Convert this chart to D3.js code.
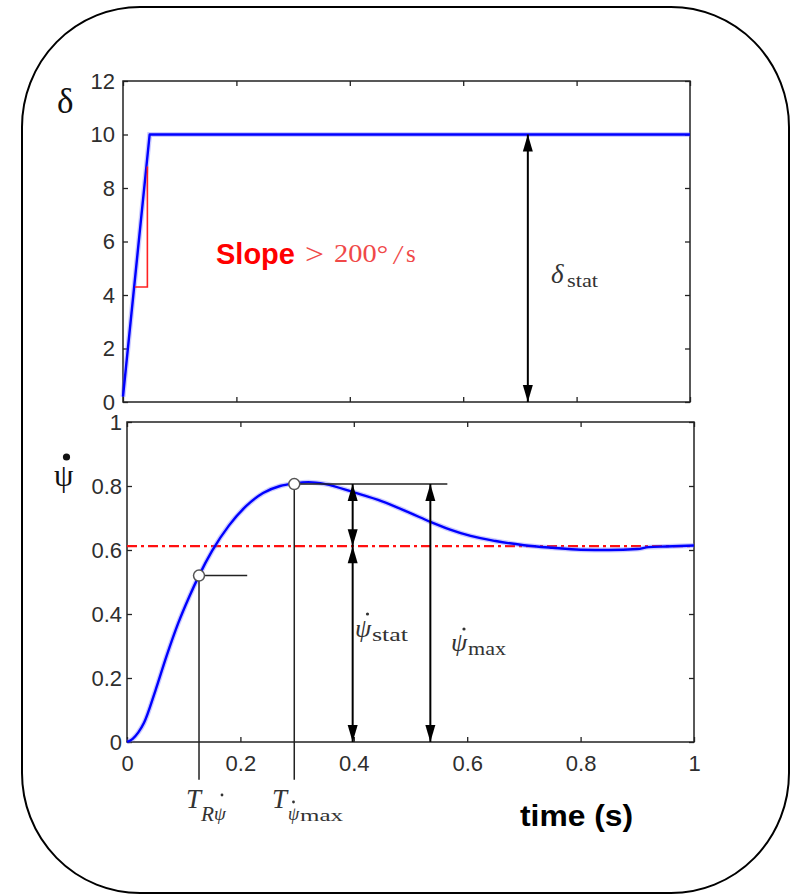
<!DOCTYPE html>
<html>
<head>
<meta charset="utf-8">
<script src="https://cdn.jsdelivr.net/npm/d3@7"></script>
<style>
  body { margin: 0; background: #fff; }
  svg { display: block; }
</style>
</head>
<body>
<svg id="chart" width="796" height="894"></svg>
<script>
// Steering input: ramp to the static steering angle
const steerTime  = [0, 0.047, 1];
const steerAngle = [0.2, 10, 10];
// Slope triangle on the ramp
const slopeTime  = [0.021, 0.043, 0.043];
const slopeAngle = [4.3, 4.3, 8.8];
const deltaStat = 10;
const deltaArrowTime = 0.714;

// Yaw-rate response
const yawTime = [0, 0.01, 0.02, 0.03, 0.05, 0.07, 0.09, 0.11, 0.127, 0.15, 0.18, 0.21, 0.24, 0.27,
                 0.295, 0.32, 0.35, 0.4, 0.45, 0.5, 0.535, 0.57, 0.606, 0.65, 0.7, 0.75, 0.8, 0.85,
                 0.9, 0.92, 0.95, 1.0];
const yawRate = [0, 0.01, 0.03, 0.06, 0.16, 0.27, 0.37, 0.455, 0.52, 0.597, 0.677, 0.737, 0.778, 0.8,
                 0.808, 0.812, 0.806, 0.78, 0.752, 0.715, 0.688, 0.664, 0.644, 0.628, 0.615, 0.607, 0.601, 0.6,
                 0.603, 0.609, 0.611, 0.614];
const yawStat = 0.612;
const riseTime = 0.127, riseRate = 0.52, riseGuideEnd = 0.212;
const peakTime = 0.295, peakRate = 0.806, peakGuideEnd = 0.565;
const statArrowTime = 0.398, maxArrowTime = 0.535;
const guideDrop = -0.118;

// Tick labels
const timeTicks  = [0, 0.2, 0.4, 0.6, 0.8, 1];
const deltaTicks = [0, 2, 4, 6, 8, 10, 12];
const rateTicks  = [0, 0.2, 0.4, 0.6, 0.8, 1];

const svg = d3.select("#chart");
const sans = "'Liberation Sans', Arial, sans-serif";
const serif = "'Liberation Serif', 'Times New Roman', serif";
const ink = "#222";
const labelInk = "#333";

// Outer rounded frame
svg.append("rect")
  .attr("x", 22).attr("y", 7).attr("width", 767).attr("height", 886)
  .attr("rx", 118).attr("ry", 120)
  .attr("fill", "none").attr("stroke", "#000").attr("stroke-width", 2);

// Scales
const xTop = d3.scaleLinear().domain([0, 1]).range([123, 690]);
const yTop = d3.scaleLinear().domain([0, 12]).range([402, 81]);
const xBot = d3.scaleLinear().domain([0, 1]).range([127, 694]);
const yBot = d3.scaleLinear().domain([0, 1]).range([742, 422]);

function styleAxis(g) {
  g.selectAll("path.domain").remove();
  g.selectAll("line").attr("stroke", ink).attr("stroke-width", 1.3);
  g.selectAll("text").attr("fill", "#2e2e2e").style("font-family", sans).style("font-size", "22px");
}

function boxAxes(x, y, yTicks, showX, leftPad, yFmt) {
  const [x0, x1] = x.range();
  const [y0, y1] = y.range();
  svg.append("g").attr("transform", `translate(${x0},0)`)
    .call(d3.axisLeft(y).tickValues(yTicks).tickSizeInner(-5).tickSizeOuter(0).tickPadding(leftPad).tickFormat(yFmt))
    .call(styleAxis);
  svg.append("g").attr("transform", `translate(${x1},0)`)
    .call(d3.axisRight(y).tickValues(yTicks).tickSizeInner(-5).tickSizeOuter(0).tickFormat(""))
    .call(styleAxis);
  svg.append("g").attr("transform", `translate(0,${y0})`)
    .call(d3.axisBottom(x).tickValues(timeTicks).tickSizeInner(-5).tickSizeOuter(0).tickPadding(13)
      .tickFormat(showX ? d3.format("") : ""))
    .call(styleAxis);
  svg.append("g").attr("transform", `translate(0,${y1})`)
    .call(d3.axisTop(x).tickValues(timeTicks).tickSizeInner(-5).tickSizeOuter(0).tickFormat(""))
    .call(styleAxis);
  svg.append("rect")
    .attr("x", x0).attr("y", y1).attr("width", x1 - x0).attr("height", y0 - y1)
    .attr("fill", "none").attr("stroke", ink).attr("stroke-width", 1.5);
}

boxAxes(xTop, yTop, deltaTicks, false, 8, d3.format("d"));
boxAxes(xBot, yBot, rateTicks, true, 5, d => d === 0 || d === 1 ? String(d) : d3.format(".1f")(d));

function arrowHead(px, py, dir) {
  // dir = -1 points up, +1 points down
  const L = 17, W = 5;
  svg.append("path")
    .attr("d", `M${px},${py} L${px - W},${py - dir * L} L${px + W},${py - dir * L} Z`)
    .attr("fill", "#000");
}
function doubleArrow(px, yTopPx, yBotPx) {
  svg.append("line").attr("x1", px).attr("x2", px).attr("y1", yTopPx).attr("y2", yBotPx)
    .attr("stroke", "#000").attr("stroke-width", 2);
  arrowHead(px, yTopPx, -1);
  arrowHead(px, yBotPx, 1);
}

// ---- Top panel: steering angle ----
const lineTop = d3.line().x((d, i) => xTop(steerTime[i])).y(d => yTop(d));
svg.append("path").datum(steerAngle).attr("d", lineTop)
  .attr("fill", "none").attr("stroke", "#6a6aff").attr("stroke-width", 5).attr("opacity", 0.35);
svg.append("path").datum(steerAngle).attr("d", lineTop)
  .attr("fill", "none").attr("stroke", "#0000ff").attr("stroke-width", 2.4).attr("stroke-linejoin", "round");

svg.append("path").datum(slopeAngle)
  .attr("d", d3.line().x((d, i) => xTop(slopeTime[i])).y(d => yTop(d)))
  .attr("fill", "none").attr("stroke", "#ff2020").attr("stroke-width", 1.6);

doubleArrow(xTop(deltaArrowTime), yTop(deltaStat), yTop(0));

// ---- Bottom panel: yaw rate ----
svg.append("line")
  .attr("x1", xBot(0)).attr("x2", xBot(1)).attr("y1", yBot(yawStat)).attr("y2", yBot(yawStat))
  .attr("stroke", "#ff1010").attr("stroke-width", 2.2).attr("stroke-dasharray", "10,4,3,4");

const lineBot = d3.line().curve(d3.curveMonotoneX).x((d, i) => xBot(yawTime[i])).y(d => yBot(d));
svg.append("path").datum(yawRate).attr("d", lineBot)
  .attr("fill", "none").attr("stroke", "#6a6aff").attr("stroke-width", 5).attr("opacity", 0.35);
svg.append("path").datum(yawRate).attr("d", lineBot)
  .attr("fill", "none").attr("stroke", "#0000ff").attr("stroke-width", 2.4);

// Guide lines to the characteristic points
[[riseTime, riseRate, riseGuideEnd], [peakTime, peakRate, peakGuideEnd]].forEach(([t, v, tEnd]) => {
  svg.append("line").attr("x1", xBot(t)).attr("x2", xBot(tEnd)).attr("y1", yBot(v)).attr("y2", yBot(v))
    .attr("stroke", ink).attr("stroke-width", 1.5);
  svg.append("line").attr("x1", xBot(t)).attr("x2", xBot(t)).attr("y1", yBot(v)).attr("y2", yBot(guideDrop))
    .attr("stroke", ink).attr("stroke-width", 1.5);
});

doubleArrow(xBot(statArrowTime), yBot(peakRate), yBot(yawStat));
doubleArrow(xBot(statArrowTime), yBot(yawStat), yBot(0));
doubleArrow(xBot(maxArrowTime), yBot(peakRate), yBot(0));

[[riseTime, riseRate], [peakTime, peakRate]].forEach(([t, v]) => {
  svg.append("circle").attr("cx", xBot(t)).attr("cy", yBot(v)).attr("r", 5.5)
    .attr("fill", "#fff").attr("stroke", "#555").attr("stroke-width", 1.5);
});

// ---- Text ----
function txt(x, y, s, opts = {}) {
  return svg.append("text").attr("x", x).attr("y", y).text(s)
    .style("font-family", opts.family || serif)
    .style("font-size", (opts.size || 20) + "px")
    .style("font-style", opts.italic ? "italic" : "normal")
    .style("font-weight", opts.bold ? "bold" : "normal")
    .attr("fill", opts.fill || labelInk)
    .attr("textLength", opts.len || null)
    .attr("lengthAdjust", opts.len ? "spacingAndGlyphs" : null);
}
function dot(x, y, r) {
  svg.append("circle").attr("cx", x).attr("cy", y).attr("r", r || 1.6).attr("fill", labelInk);
}

// Axis symbols
txt(57, 113, "δ", { size: 35, fill: "#111" });
txt(54, 486, "ψ", { size: 31, fill: "#111" });
svg.append("circle").attr("cx", 66.5).attr("cy", 457).attr("r", 3.6).attr("fill", "#111");

// Slope annotation
txt(216, 264, "Slope", { family: sans, size: 29, bold: true, fill: "#ff0000" });
txt(305, 264, ">", { size: 30, fill: "#f04848", len: 19 });
txt(334, 262, "200°", { size: 25, fill: "#f04848", len: 54 });
txt(394, 264, "/", { size: 27, italic: true, fill: "#f04848" });
txt(406, 262, "s", { size: 25, fill: "#f04848" });

// Static steering angle
txt(551, 283, "δ", { size: 27, italic: true });
txt(567, 287, "stat", { size: 18, len: 31 });

// Yaw-rate magnitudes
txt(355, 637, "ψ", { size: 26, italic: true });
dot(367.5, 614);
txt(372, 641, "stat", { size: 18, len: 36 });
txt(451, 651, "ψ", { size: 26, italic: true });
dot(464, 629);
txt(468, 655, "max", { size: 18, len: 38 });

// Time markers
txt(186, 808, "T", { size: 27, italic: true });
txt(201, 821, "R", { size: 20, italic: true, len: 13 });
txt(214, 820, "ψ", { size: 19, italic: true });
dot(222, 795, 1.4);
txt(272, 808, "T", { size: 27, italic: true });
txt(288, 820, "ψ", { size: 18, italic: true });
dot(293.5, 802, 1.4);
txt(300, 821, "max", { size: 17, len: 43 });

// Time axis title
txt(520, 826, "time (s)", { family: sans, size: 30, bold: true, fill: "#000", len: 113 });
</script>
</body>
</html>
